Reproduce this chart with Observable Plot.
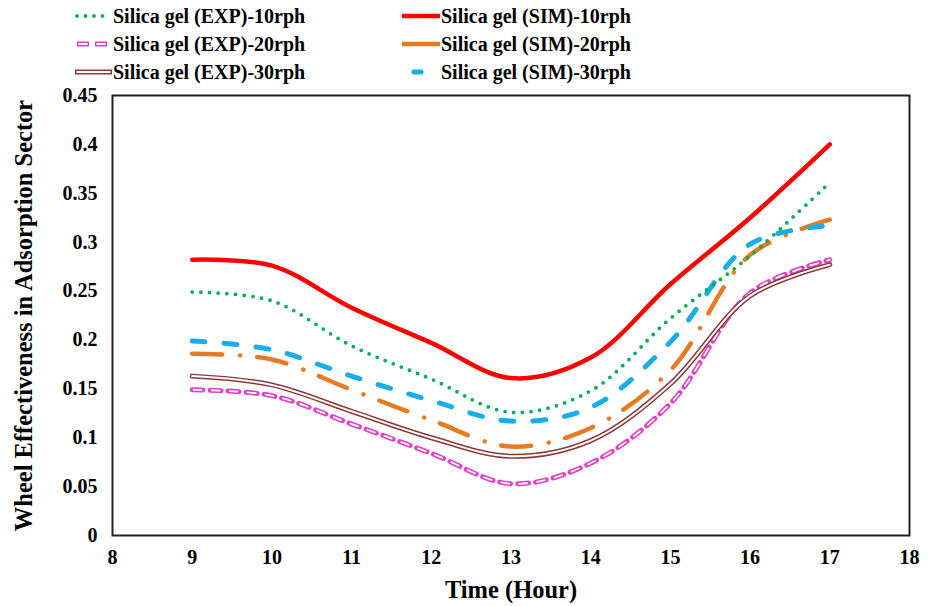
<!DOCTYPE html>
<html><head><meta charset="utf-8">
<script src="https://cdn.jsdelivr.net/npm/d3@7"></script>
<script src="https://cdn.jsdelivr.net/npm/@observablehq/plot@0.6"></script>
<style>
body{margin:0;background:#fff;font-family:"Liberation Serif",serif;}
#wrap{position:relative;width:931px;height:606px;}
#legend{position:relative;width:931px;height:76px;}
.item{position:absolute;display:flex;align-items:center;font-weight:bold;font-size:20px;color:#000;white-space:nowrap;}
.item svg{display:block;}
</style>
</head><body>
<div id="wrap"><div id="legend"></div><div id="chart"></div></div>
<script>
const hours = [9, 10, 11, 12, 13, 14, 15, 16, 17];
const seriesLabels = ["Silica gel (EXP)-10rph","Silica gel (EXP)-20rph","Silica gel (EXP)-30rph","Silica gel (SIM)-10rph","Silica gel (SIM)-20rph","Silica gel (SIM)-30rph"];
const exp10 = [0.249, 0.240, 0.194, 0.160, 0.126, 0.148, 0.222, 0.286, 0.361];
const exp20 = [0.149, 0.143, 0.114, 0.084, 0.053, 0.074, 0.135, 0.248, 0.282];
const exp30 = [0.163, 0.154, 0.127, 0.100, 0.081, 0.097, 0.155, 0.245, 0.277];
const sim10 = [0.282, 0.276, 0.233, 0.197, 0.161, 0.182, 0.257, 0.325, 0.400];
const sim20 = [0.186, 0.180, 0.149, 0.118, 0.091, 0.110, 0.169, 0.287, 0.323];
const sim30 = [0.199, 0.190, 0.163, 0.138, 0.117, 0.131, 0.198, 0.298, 0.317];
const xTicks = [8, 9, 10, 11, 12, 13, 14, 15, 16, 17, 18];
const yTicks = [0, 0.05, 0.1, 0.15, 0.2, 0.25, 0.3, 0.35, 0.4, 0.45];

const rows = arr => hours.map((h, i) => ({x: h, y: arr[i]}));

const C = {green:"#00B050", pink:"#E43FC9", brown:"#8B3A3A", red:"#FF0000", orange:"#E87A22", cyan:"#17AEEA"};

// legend swatches
const sw = {
  exp10: `<line x1="16" y1="8" x2="46" y2="8" stroke="${C.green}" stroke-width="3.8" stroke-linecap="round" stroke-dasharray="0 8.5"/>`,
  exp20: `<line x1="16" y1="8" x2="50" y2="8" stroke="${C.pink}" stroke-width="5" stroke-dasharray="12 6"/><line x1="17.5" y1="8" x2="50" y2="8" stroke="#fff" stroke-width="1.8" stroke-dasharray="9 9"/>`,
  exp30: `<line x1="14" y1="8" x2="51" y2="8" stroke="${C.brown}" stroke-width="5"/><line x1="15.5" y1="8" x2="49.5" y2="8" stroke="#fff" stroke-width="2"/>`,
  sim10: `<line x1="13" y1="8" x2="51" y2="8" stroke="${C.red}" stroke-width="4.5"/>`,
  sim20: `<line x1="13" y1="8" x2="51" y2="8" stroke="${C.orange}" stroke-width="4.5"/>`,
  sim30: `<line x1="25" y1="8" x2="32" y2="8" stroke="${C.cyan}" stroke-width="5" stroke-linecap="round"/>`
};
const leg = [
  {k:"exp10", lab:seriesLabels[0], x:61, y:16},
  {k:"exp20", lab:seriesLabels[1], x:61, y:44},
  {k:"exp30", lab:seriesLabels[2], x:61, y:72},
  {k:"sim10", lab:seriesLabels[3], x:389, y:16},
  {k:"sim20", lab:seriesLabels[4], x:389, y:44},
  {k:"sim30", lab:seriesLabels[5], x:389, y:72}
];
const L = document.getElementById("legend");
for (const e of leg) {
  const d = document.createElement("div");
  d.className = "item";
  d.style.left = e.x + "px";
  d.style.top = (e.y - 12) + "px";
  d.style.height = "24px";
  d.innerHTML = `<svg width="52" height="16">${sw[e.k]}</svg><span>${e.lab}</span>`;
  L.appendChild(d);
}

const curve = "catmull-rom";
const chart = Plot.plot({
  width: 931,
  height: 530,
  marginTop: 19,
  marginBottom: 71,
  marginLeft: 112,
  marginRight: 22,
  style: {fontFamily: "Liberation Serif, serif", fontWeight: "bold", fontSize: "20px", color: "#000", background: "#fff", overflow: "visible"},
  x: {domain: [8, 18], ticks: xTicks, tickSize: 0, tickPadding: 14, label: "Time (Hour)", labelAnchor: "center", labelArrow: "none", labelOffset: 62},
  y: {domain: [0, 0.45], ticks: yTicks, tickSize: 0, tickPadding: 15, tickFormat: d => String(+d.toFixed(2)), label: "Wheel Effectiveness in Adsorption Sector", labelAnchor: "center", labelArrow: "none", labelOffset: 98},
  marks: [
    Plot.line(rows(exp20), {x:"x", y:"y", curve, stroke: C.pink, strokeWidth: 5, strokeDasharray: "11 7"}),
    Plot.line(rows(exp20), {x:"x", y:"y", curve, stroke: "#fff", strokeWidth: 1.8, strokeDasharray: "8 10", strokeDashoffset: -1.5}),
    Plot.line(rows(exp30), {x:"x", y:"y", curve, stroke: C.brown, strokeWidth: 5}),
    Plot.line(rows(exp30), {x:"x", y:"y", curve, stroke: "#fff", strokeWidth: 2}),
    Plot.line(rows(sim20), {x:"x", y:"y", curve, stroke: C.orange, strokeWidth: 4.5, strokeLinecap: "round", strokeDasharray: "30 18 0.01 17"}),
    Plot.line(rows(sim30), {x:"x", y:"y", curve, stroke: C.cyan, strokeWidth: 5, strokeLinecap: "round", strokeDasharray: "13 19"}),
    Plot.line(rows(exp10), {x:"x", y:"y", curve, stroke: C.green, strokeWidth: 3.8, strokeLinecap: "round", strokeDasharray: "0 8.7"}),
    Plot.line(rows(sim10), {x:"x", y:"y", curve, stroke: C.red, strokeWidth: 4.5}),
    Plot.frame({stroke: "#222", strokeWidth: 2})
  ]
});
chart.querySelectorAll("g[aria-label='x-axis label'] text, g[aria-label='y-axis label'] text").forEach(t => t.style.fontSize = "24.5px");
document.getElementById("chart").appendChild(chart);
</script>
</body></html>
